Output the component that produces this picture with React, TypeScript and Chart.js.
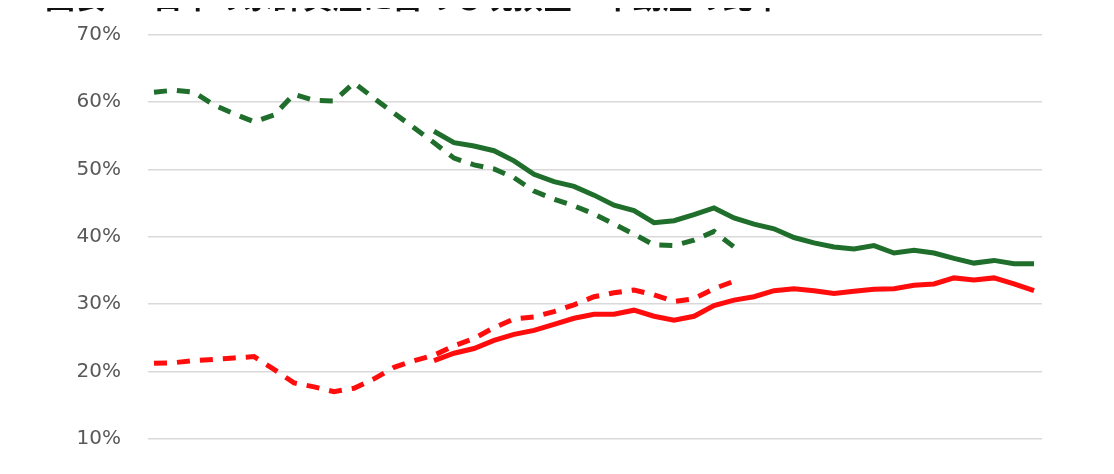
import React, { useEffect, useRef } from "react";
import { Chart, registerables } from "chart.js";

Chart.register(...registerables);

const TITLE = "図表1：日本の家計資産に占める現預金・不動産の比率";

const years = [
  1980, 1981, 1982, 1983, 1984, 1985, 1986, 1987, 1988, 1989,
  1990, 1991, 1992, 1993, 1994, 1995, 1996, 1997, 1998, 1999,
  2000, 2001, 2002, 2003, 2004, 2005, 2006, 2007, 2008, 2009,
  2010, 2011, 2012, 2013, 2014, 2015, 2016, 2017, 2018, 2019,
  2020, 2021, 2022, 2023, 2024,
];

const yTickValues = [0, 10, 20, 30, 40, 50, 60, 70];

// 不動産 (旧基準, dashed) 1980-2009
const realEstateOld = [
  61.5, 61.8, 61.5, 59.6, 58.3, 57.1, 58.1, 61.2, 60.3, 60.2,
  62.9, 60.6, 58.4, 56.2, 54.0, 51.7, 50.7, 50.1, 48.8, 46.8,
  45.6, 44.6, 43.4, 41.9, 40.4, 38.8, 38.7, 39.5, 40.8, 38.5,
  null, null, null, null, null, null, null, null, null, null,
  null, null, null, null, null,
];

// 不動産 (新基準, solid) 1994-2024
const realEstateNew = [
  null, null, null, null, null, null, null, null, null, null,
  null, null, null, null, 55.7, 54.0, 53.5, 52.8, 51.3, 49.3,
  48.2, 47.5, 46.2, 44.7, 43.9, 42.1, 42.4, 43.3, 44.3, 42.8,
  41.9, 41.2, 39.9, 39.1, 38.5, 38.2, 38.7, 37.6, 38.0, 37.6,
  36.8, 36.1, 36.5, 36.0, 36.0,
];

// 現預金 (旧基準, dashed) 1980-2009
const depositsOld = [
  21.2, 21.3, 21.6, 21.8, 22.0, 22.2, 20.3, 18.3, 17.7, 17.0,
  17.5, 18.9, 20.6, 21.6, 22.4, 23.8, 24.9, 26.5, 27.8, 28.1,
  28.9, 29.9, 31.1, 31.7, 32.1, 31.4, 30.4, 30.8, 32.3, 33.4,
  null, null, null, null, null, null, null, null, null, null,
  null, null, null, null, null,
];

// 現預金 (新基準, solid) 1994-2024
const depositsNew = [
  null, null, null, null, null, null, null, null, null, null,
  null, null, null, null, 21.6, 22.7, 23.4, 24.6, 25.5, 26.1,
  27.0, 27.9, 28.5, 28.5, 29.1, 28.2, 27.6, 28.2, 29.8, 30.6,
  31.1, 32.0, 32.3, 32.0, 31.6, 31.9, 32.2, 32.3, 32.8, 33.0,
  33.9, 33.6, 33.9, 33.0, 32.0,
];

const GREEN = "#1f6e2b";
const RED = "#ff0d0d";

function toPoints(values: (number | null)[]) {
  return years.map((yr, i) => ({ x: yr, y: values[i] }));
}

export default function App() {
  const canvasRef = useRef<HTMLCanvasElement | null>(null);

  useEffect(() => {
    if (!canvasRef.current) return;
    const dashed = [13, 10];
    const lw = 5;
    const chart = new Chart(canvasRef.current, {
      type: "line",
      data: {
        datasets: [
          {
            label: "不動産（旧基準）",
            data: toPoints(realEstateOld),
            borderColor: GREEN,
            borderWidth: lw,
            borderDash: dashed,
            pointRadius: 0,
            tension: 0,
            spanGaps: false,
          },
          {
            label: "現預金（旧基準）",
            data: toPoints(depositsOld),
            borderColor: RED,
            borderWidth: lw,
            borderDash: dashed,
            pointRadius: 0,
            tension: 0,
            spanGaps: false,
          },
          {
            label: "不動産",
            data: toPoints(realEstateNew),
            borderColor: GREEN,
            borderWidth: lw,
            pointRadius: 0,
            tension: 0,
            spanGaps: false,
          },
          {
            label: "現預金",
            data: toPoints(depositsNew),
            borderColor: RED,
            borderWidth: lw,
            pointRadius: 0,
            tension: 0,
            spanGaps: false,
          },
        ],
      },
      options: {
        animation: false,
        responsive: false,
        maintainAspectRatio: false,
        layout: { padding: { top: 14, right: 64, left: 0, bottom: 0 } },
        plugins: {
          legend: { display: false },
          tooltip: { enabled: false },
          title: { display: false },
        },
        scales: {
          x: {
            type: "linear",
            min: years[0] - 0.3,
            max: years[years.length - 1] + 0.4,
            grid: { display: false },
            border: { display: false },
            ticks: {
              stepSize: 5,
              color: "#595959",
              font: { family: "DejaVu Sans", size: 20 },
              callback: (v: any) => (Number.isInteger(v) && v % 5 === 0 ? String(v) : ""),
            },
            afterFit: (scale: any) => {
              scale.height = 50;
            },
          },
          y: {
            min: yTickValues[0],
            max: yTickValues[yTickValues.length - 1],
            afterBuildTicks: (scale: any) => {
              scale.ticks = yTickValues.map((v) => ({ value: v }));
            },
            grid: { color: "#d9d9d9", lineWidth: 1.6, drawTicks: false },
            border: { display: false },
            ticks: {
              padding: 27,
              color: "#595959",
              font: { family: "DejaVu Sans", size: 20 },
              callback: (v: any) => `${v}%`,
            },
            afterFit: (scale: any) => {
              scale.width = 140;
            },
          },
        },
      },
    });
    return () => chart.destroy();
  }, []);

  return (
    <div style={{ position: "relative", width: 1098, height: 548 }}>
      <canvas
        ref={canvasRef}
        width={1098}
        height={560}
        style={{ display: "block", position: "relative", top: -12 }}
      />
      <div
        style={{
          position: "absolute",
          left: 37,
          top: -28,
          fontFamily: "'Noto Sans CJK JP', sans-serif",
          fontWeight: 700,
          fontSize: 30,
          lineHeight: "30px",
          color: "#111",
          whiteSpace: "nowrap",
          zIndex: 2,
        }}
      >
        {TITLE}
      </div>
    </div>
  );
}
